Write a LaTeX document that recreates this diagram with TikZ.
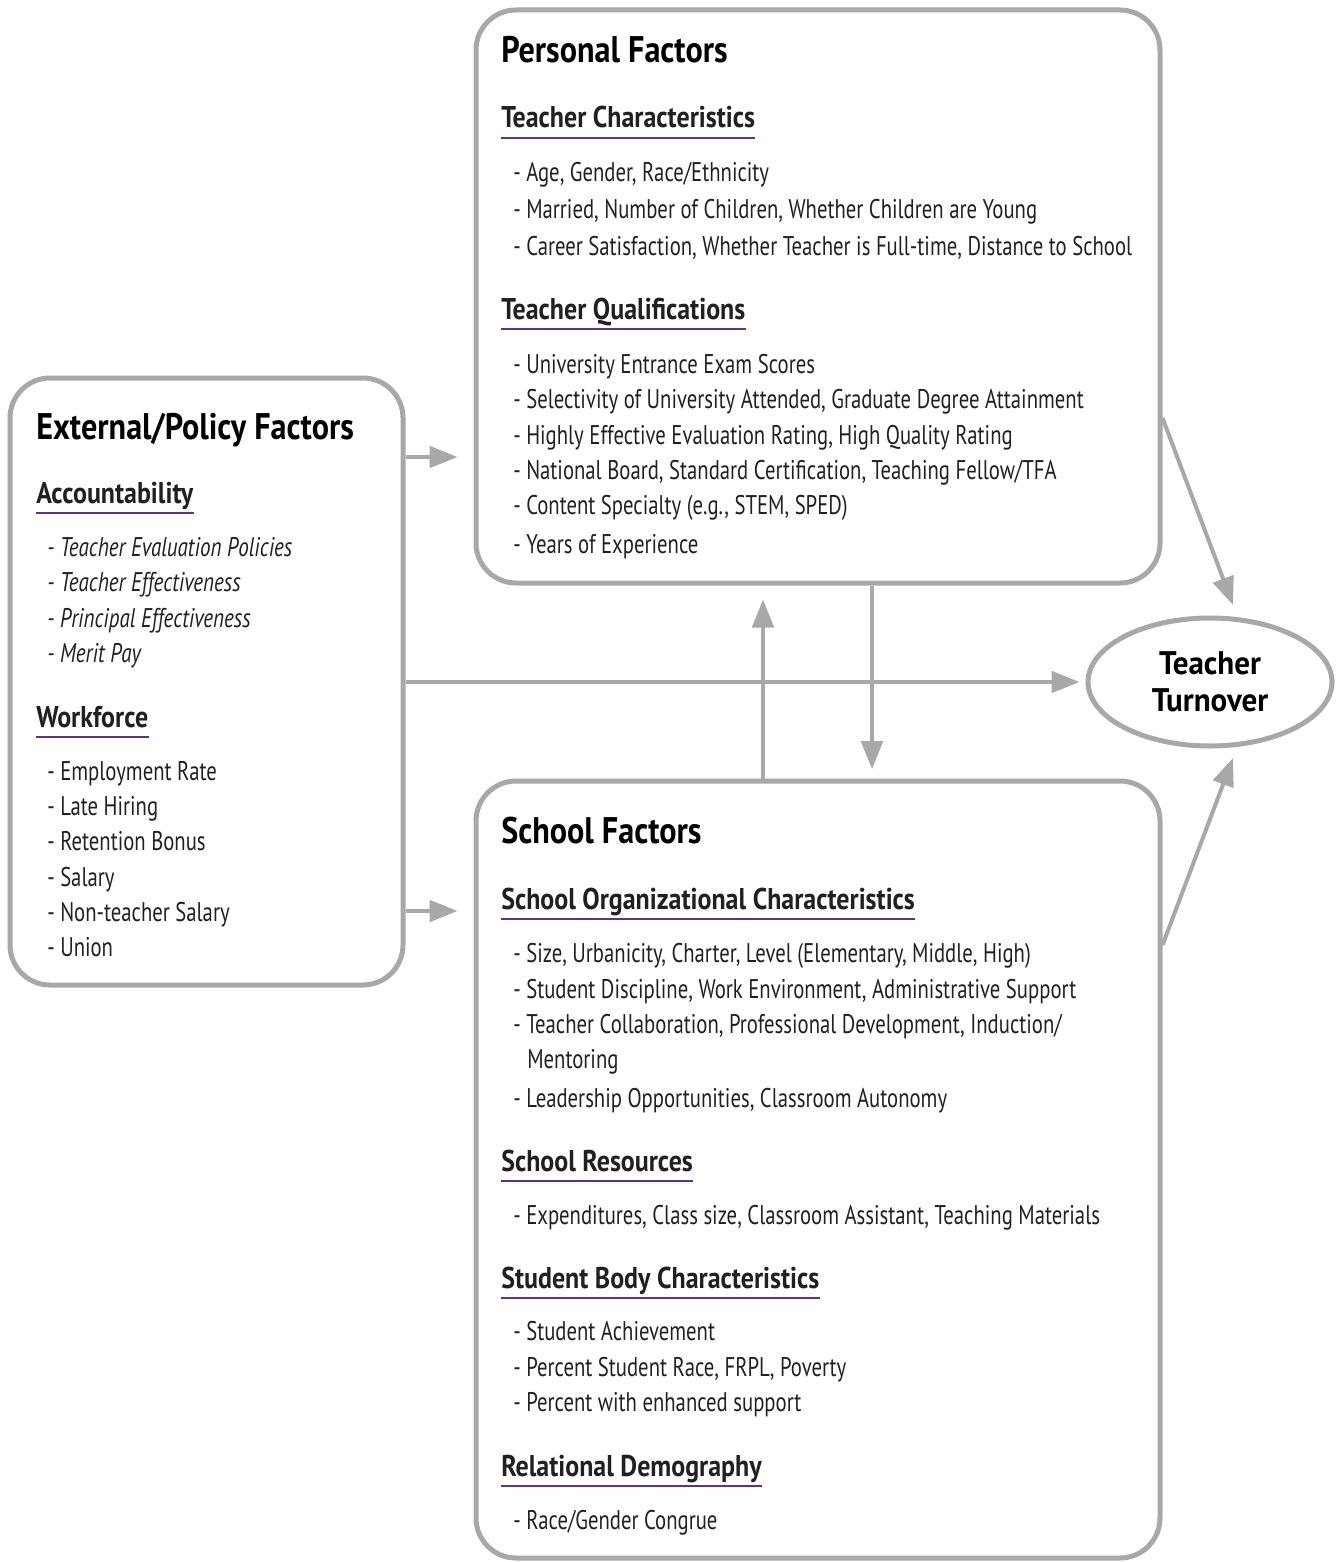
\documentclass[tikz,border=0pt]{standalone}
\usepackage{fontspec}
\setmainfont{PT Sans}[FakeStretch=0.767]
\newfontfamily\headfont{PT Sans}[FakeStretch=0.87]
\newfontfamily\subfont{PT Sans}[FakeStretch=0.865]
\newfontfamily\itfont{PT Sans}[FakeStretch=0.78]
\newfontfamily\ellfont{PT Sans}[FakeStretch=0.95]
\usetikzlibrary{arrows.meta,shapes.geometric}
\definecolor{edgec}{RGB}{168,168,168}
\definecolor{ulc}{RGB}{90,50,150}
\definecolor{txt}{RGB}{35,31,32}
\tikzset{
 box/.style={draw=edgec, line width=3.75pt, rounded corners=30pt, rectangle, inner sep=0pt},
 ttl/.style={anchor=base west, inner sep=0pt, font=\headfont\fontsize{27.75}{30}\selectfont\bfseries},
 sub/.style={anchor=base west, inner sep=0pt, font=\subfont\fontsize{22.5}{25}\selectfont\bfseries, text=txt},
 item/.style={anchor=base west, inner sep=0pt, font=\fontsize{20.25}{22}\selectfont, text=txt},
 itemi/.style={anchor=base west, inner sep=0pt, font=\itfont\fontsize{20.25}{22}\selectfont\itshape, text=txt},
 arr/.style={draw=edgec, line width=3pt, -{Triangle[length=21pt,width=16pt]}},
 uline/.style={draw=ulc, line width=1pt},
}
\newcommand{\subhead}[4]{\node[sub] (#1) at (#2,#3) {#4};
 \draw[uline] ([yshift=-7.5pt]#1.base west) -- ([yshift=-7.5pt]#1.base east);}
\begin{document}
\begin{tikzpicture}[x=0.75pt,y=-0.75pt]
\useasboundingbox (0,0) rectangle (1337,1562);
% boxes
\node[box, minimum width=513pt, minimum height=429.75pt] (pers) at (818,296.5) {};
\node[box, minimum width=294.75pt, minimum height=455.25pt] (ext) at (206.5,681.5) {};
\node[box, minimum width=513pt, minimum height=582.75pt] (sch) at (818,1169.5) {};
\node[draw=edgec, line width=3.75pt, ellipse, minimum width=183pt, minimum height=96pt, inner sep=0pt,
  align=center, font=\ellfont\fontsize{24.5}{27.75}\selectfont\bfseries] (tt) at (1210,682) {Teacher\\Turnover};

% Personal
\node[ttl] (pt) at (501,63) {Personal Factors};
\subhead{tc}{501}{128}{Teacher Characteristics}
\node[item] (p1) at (513,182) {- Age, Gender, Race/Ethnicity};
\node[item] (p2) at (513,219) {- Married, Number of Children, Whether Children are Young};
\node[item] (p3) at (513,255) {- Career Satisfaction, Whether Teacher is Full-time, Distance to School};
\subhead{tq}{501}{319}{Teacher Qualifications}
\node[item] (q1) at (513,373) {- University Entrance Exam Scores};
\node[item] (q2) at (513,408) {- Selectivity of University Attended, Graduate Degree Attainment};
\node[item] (q3) at (513,444) {- Highly Effective Evaluation Rating, High Quality Rating};
\node[item] (q4) at (513,479) {- National Board, Standard Certification, Teaching Fellow/TFA};
\node[item] (q5) at (513,514) {- Content Specialty (e.g., STEM, SPED)};
\node[item] (q6) at (513,553) {- Years of Experience};

% External
\node[ttl] (et) at (36,439) {External/Policy Factors};
\subhead{ea}{36}{503}{Accountability}
\node[itemi] (a1) at (47,556) {- Teacher Evaluation Policies};
\node[itemi] (a2) at (47,591) {- Teacher Effectiveness};
\node[itemi] (a3) at (47,627) {- Principal Effectiveness};
\node[itemi] (a4) at (47,662) {- Merit Pay};
\subhead{ew}{36}{727}{Workforce}
\node[item] (w1) at (47,780) {- Employment Rate};
\node[item] (w2) at (47,815) {- Late Hiring};
\node[item] (w3) at (47,850) {- Retention Bonus};
\node[item] (w4) at (47,886) {- Salary};
\node[item] (w5) at (47,921) {- Non-teacher Salary};
\node[item] (w6) at (47,956) {- Union};

% School
\node[ttl] (st) at (501,843) {School Factors};
\subhead{so}{501}{909}{School Organizational Characteristics}
\node[item] (o1) at (513,962) {- Size, Urbanicity, Charter, Level (Elementary, Middle, High)};
\node[item] (o2) at (513,998) {- Student Discipline, Work Environment, Administrative Support};
\node[item] (o3) at (513,1033) {- Teacher Collaboration, Professional Development, Induction/};
\node[item] (o3b) at (527,1068) {Mentoring};
\node[item] (o4) at (513,1107) {- Leadership Opportunities, Classroom Autonomy};
\subhead{sr}{501}{1171}{School Resources}
\node[item] (r1) at (513,1224) {- Expenditures, Class size, Classroom Assistant, Teaching Materials};
\subhead{sb}{501}{1288}{Student Body Characteristics}
\node[item] (b1) at (513,1340) {- Student Achievement};
\node[item] (b2) at (513,1376) {- Percent Student Race, FRPL, Poverty};
\node[item] (b3) at (513,1411) {- Percent with enhanced support};
\subhead{sd}{501}{1476}{Relational Demography}
\node[item] (d1) at (513,1529) {- Race/Gender Congrue};

% connectors
\draw[arr, shorten >=12pt] (ext.east |- 0,457) -- (pers.west |- 0,457);
\draw[arr, shorten >=12pt] (ext.east |- 0,911) -- (sch.west |- 0,911);
\draw[arr, shorten >=4.5pt] (ext.east |- 0,682) -- (tt.west);
\draw[arr, shorten >=7pt] (pers.south -| 872,0) -- (sch.north -| 872,0);
\draw[arr, shorten >=10.5pt] (sch.north -| 763,0) -- (pers.south -| 763,0);
\coordinate (pt1) at (1233,605);
\coordinate (pt2) at (1233,758);
\draw[arr] (pers.east |- 0,418) -- (pt1);
\draw[arr] (sch.east |- 0,945) -- (pt2);
\end{tikzpicture}
\end{document}
